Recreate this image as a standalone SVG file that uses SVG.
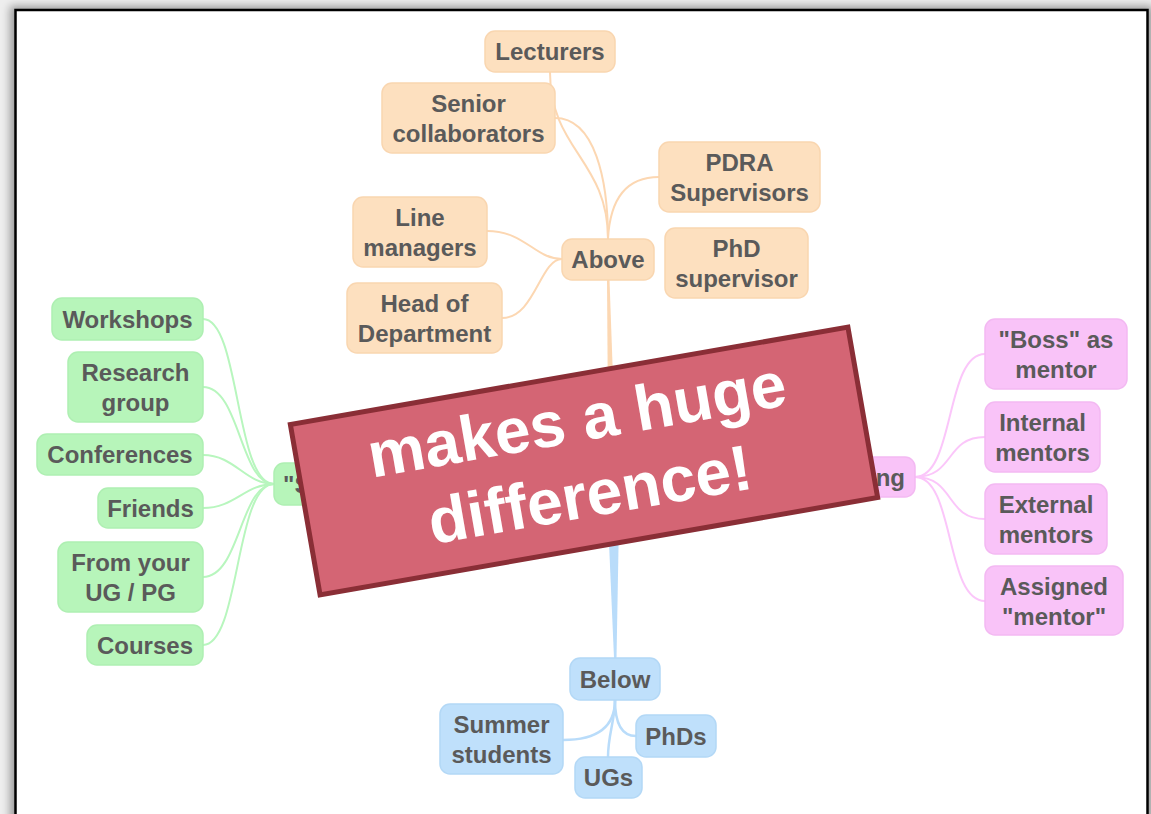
<svg xmlns="http://www.w3.org/2000/svg" width="1151" height="814" viewBox="0 0 1151 814">
<defs>
<filter id="sh" x="-5%" y="-5%" width="110%" height="110%"><feGaussianBlur stdDeviation="4"/></filter>
<style>
.t{font-family:"Liberation Sans",Arial,sans-serif;font-weight:bold;font-size:24px;fill:#5a5a5a;text-anchor:middle}
.o rect{fill:#fde0bf;stroke:#f9d6b0;stroke-width:1.5}
.g rect{fill:#b7f5ba;stroke:#aeefb2;stroke-width:1.5}
.p rect{fill:#f9c3f8;stroke:#f3b9f2;stroke-width:1.5}
.b rect{fill:#bfe0fb;stroke:#b3d8f6;stroke-width:1.5}
.co{fill:none;stroke:#fcd7b2;stroke-width:2}
.cg{fill:none;stroke:#b8f6be;stroke-width:2}
.cp{fill:none;stroke:#fbc6fa;stroke-width:2}
.cb{fill:none;stroke:#b9dcfa;stroke-width:2.5}
.bt{font-family:"Liberation Sans",Arial,sans-serif;font-weight:bold;font-size:64px;fill:#ffffff;text-anchor:middle}
</style>
</defs>
<rect x="0" y="0" width="1151" height="814" fill="#eeeeee"/>
<rect x="10" y="6" width="1143" height="830" fill="#000" opacity="0.35" filter="url(#sh)"/>
<rect x="15.5" y="10" width="1132" height="830" fill="#ffffff" stroke="#000" stroke-width="2.5"/>

<g id="connectors">
<path class="co" d="M550,72 C550,150 608,160 608,239"/>
<path class="co" d="M555,118 C595,118 608,180 608,239"/>
<path class="co" d="M659,177 C625,177 610,200 608,239"/>
<path class="co" d="M487,231 C525,231 535,259 562,259"/>
<path class="co" d="M502,318 C535,318 540,259 562,259"/>
<path d="M607,280 L609.5,280 L614.5,420 L608,420 Z" fill="#fcd7b2"/>
<path class="cg" d="M203,319 C240,319 235,484 274,484"/>
<path class="cg" d="M203,387 C240,387 240,484 274,484"/>
<path class="cg" d="M203,455 C235,455 245,484 274,484"/>
<path class="cg" d="M203,508 C235,508 245,484 274,484"/>
<path class="cg" d="M203,577 C240,577 240,484 274,484"/>
<path class="cg" d="M203,645 C240,645 235,484 274,484"/>
<path class="cp" d="M915,477 C955,477 945,354 985,354"/>
<path class="cp" d="M915,477 C955,477 945,437 985,437"/>
<path class="cp" d="M915,477 C955,477 945,519 985,519"/>
<path class="cp" d="M915,477 C955,477 945,601 985,601"/>
<path d="M608,520 L619,520 L616.5,658 L614,658 Z" fill="#b9dcfa"/>
<path class="cb" d="M563,740 C600,740 615,725 615,700"/>
<path class="cb" d="M608,757 C608,735 615,720 615,700"/>
<path class="cb" d="M636,736 C620,736 615,720 615,700"/>
</g>

<g id="lecturers" class="o"><rect x="485" y="31" width="130" height="41" rx="10"/><text class="t" x="550" y="60">Lecturers</text></g>
<g id="senior" class="o"><rect x="382" y="83" width="173" height="70" rx="10"/><text class="t" x="468.5" y="112">Senior</text><text class="t" x="468.5" y="142">collaborators</text></g>
<g id="pdra" class="o"><rect x="659" y="142" width="161" height="70" rx="10"/><text class="t" x="739.5" y="171">PDRA</text><text class="t" x="739.5" y="201">Supervisors</text></g>
<g id="line" class="o"><rect x="353" y="197" width="134" height="70" rx="10"/><text class="t" x="420" y="226">Line</text><text class="t" x="420" y="256">managers</text></g>
<g id="above" class="o"><rect x="562" y="239" width="92" height="41" rx="10"/><text class="t" x="608" y="268">Above</text></g>
<g id="phdsup" class="o"><rect x="665" y="228" width="143" height="70" rx="10"/><text class="t" x="736.5" y="257">PhD</text><text class="t" x="736.5" y="287">supervisor</text></g>
<g id="hod" class="o"><rect x="347" y="283" width="155" height="70" rx="10"/><text class="t" x="424.5" y="312">Head of</text><text class="t" x="424.5" y="342">Department</text></g>

<g id="workshops" class="g"><rect x="52" y="298" width="151" height="42" rx="10"/><text class="t" x="127.5" y="327.5">Workshops</text></g>
<g id="research" class="g"><rect x="68" y="352" width="135" height="70" rx="10"/><text class="t" x="135.5" y="381">Research</text><text class="t" x="135.5" y="411">group</text></g>
<g id="conferences" class="g"><rect x="37" y="434" width="166" height="41" rx="10"/><text class="t" x="120" y="463">Conferences</text></g>
<g id="friends" class="g"><rect x="98" y="488" width="105" height="40" rx="10"/><text class="t" x="150.5" y="516.5">Friends</text></g>
<g id="ugpg" class="g"><rect x="58" y="542" width="145" height="70" rx="10"/><text class="t" x="130.5" y="571">From your</text><text class="t" x="130.5" y="601">UG / PG</text></g>
<g id="courses" class="g"><rect x="87" y="625" width="116" height="40" rx="10"/><text class="t" x="145" y="653.5">Courses</text></g>
<g id="sideways" class="g"><rect x="274" y="463" width="130" height="42" rx="10"/><text class="t" x="283" y="492.5" style="text-anchor:start">"Sideways"</text></g>

<g id="mentoring" class="p"><rect x="779" y="457" width="136" height="40" rx="10"/><text class="t" x="847" y="485.5">Mentoring</text></g>
<g id="boss" class="p"><rect x="985" y="319" width="142" height="70" rx="10"/><text class="t" x="1056" y="348">"Boss" as</text><text class="t" x="1056" y="378">mentor</text></g>
<g id="internal" class="p"><rect x="985" y="402" width="115" height="70" rx="10"/><text class="t" x="1042.5" y="431">Internal</text><text class="t" x="1042.5" y="461">mentors</text></g>
<g id="external" class="p"><rect x="985" y="484" width="122" height="70" rx="10"/><text class="t" x="1046" y="513">External</text><text class="t" x="1046" y="543">mentors</text></g>
<g id="assigned" class="p"><rect x="985" y="566" width="138" height="69" rx="10"/><text class="t" x="1054" y="595">Assigned</text><text class="t" x="1054" y="625">"mentor"</text></g>

<g id="below" class="b"><rect x="570" y="658" width="90" height="42" rx="10"/><text class="t" x="615" y="687.5">Below</text></g>
<g id="summer" class="b"><rect x="440" y="704" width="123" height="70" rx="10"/><text class="t" x="501.5" y="733">Summer</text><text class="t" x="501.5" y="763">students</text></g>
<g id="phds" class="b"><rect x="636" y="715" width="80" height="42" rx="10"/><text class="t" x="676" y="744.5">PhDs</text></g>
<g id="ugs" class="b"><rect x="575" y="757" width="67" height="41" rx="10"/><text class="t" x="608.5" y="786">UGs</text></g>

<g id="banner" transform="translate(584,461) rotate(-9.9)">
<rect x="-283" y="-86.5" width="566" height="173" fill="#d46574" stroke="#8a2e36" stroke-width="5"/>
<text class="bt" x="0" y="-20">makes a huge</text>
<text class="bt" x="0" y="56">difference!</text>
</g>
</svg>
